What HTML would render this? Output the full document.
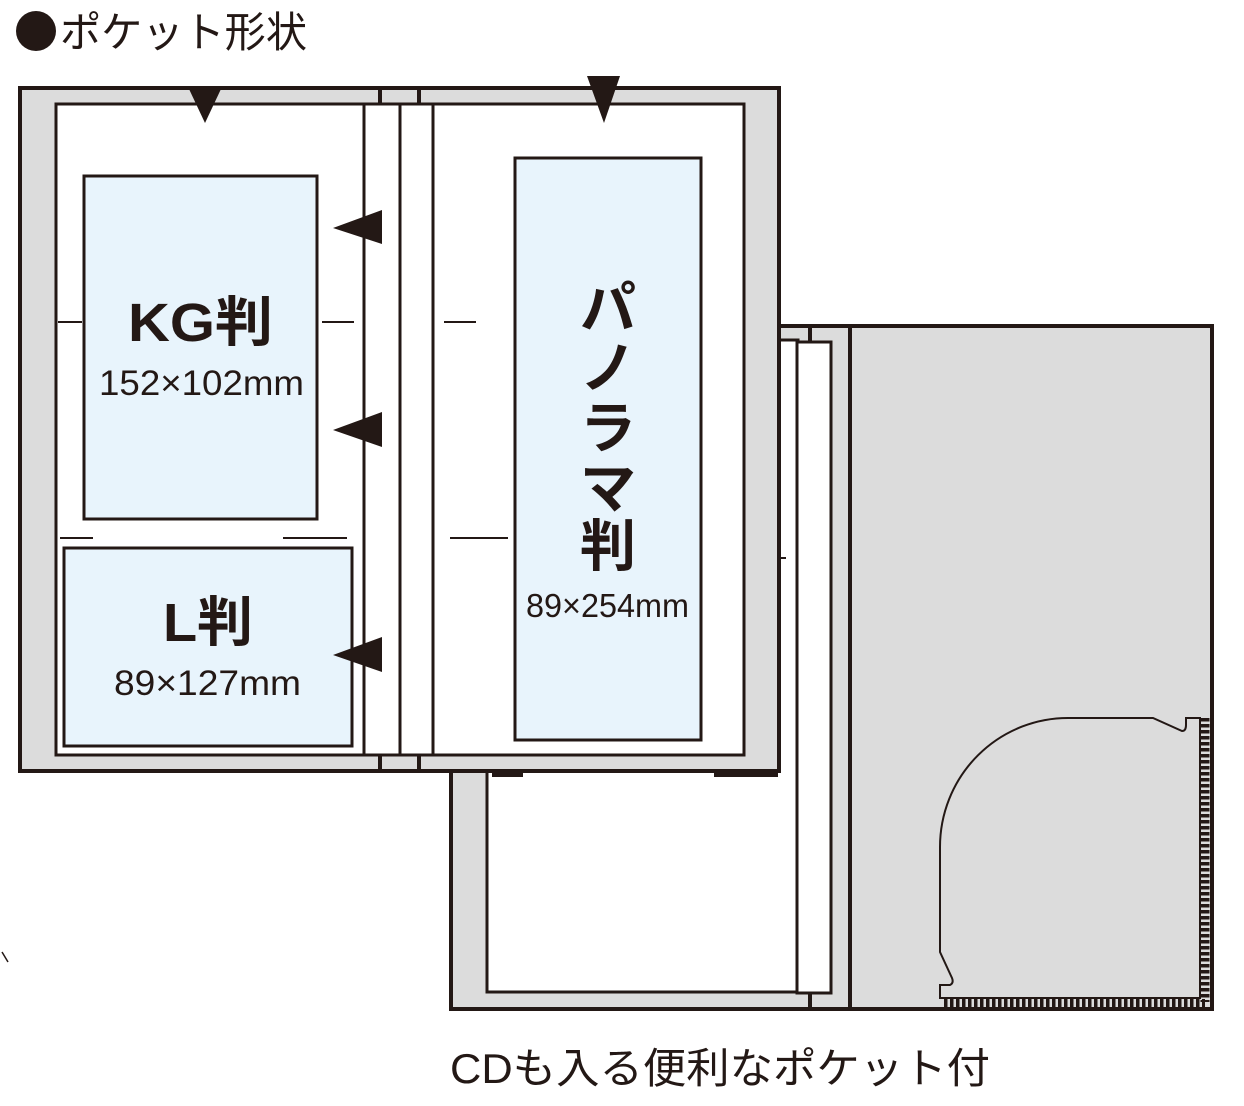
<!DOCTYPE html>
<html><head><meta charset="utf-8"><style>
html,body{margin:0;padding:0;background:#fff;width:1244px;height:1106px;overflow:hidden}
svg{display:block}
text{font-family:"Liberation Sans","Noto Sans CJK JP",sans-serif;fill:#231815}
</style></head><body>
<svg width="1244" height="1106" viewBox="0 0 1244 1106" xmlns="http://www.w3.org/2000/svg">
<g stroke="#231815" fill="none">
<!-- back album -->
<rect x="451" y="326" width="761" height="683" fill="#dcdcdc" stroke-width="4"/>
<rect x="487" y="340" width="311" height="652" fill="#fff" stroke-width="3"/>
<rect x="797" y="342" width="34" height="651" fill="#fff" stroke-width="3"/>
<line x1="810" y1="326" x2="810" y2="342" stroke-width="4"/>
<line x1="810" y1="993" x2="810" y2="1009" stroke-width="4"/>
<line x1="850" y1="326" x2="850" y2="1009" stroke-width="4"/>
<path d="M1070 718 L1153 718 L1182 731 Q1186 731 1186 725 L1186 718 L1200 718 L1200 998 L940 998 L940 985 L950 985 Q954 983 952 978 L940 952 L940 847 A128 129 0 0 1 1070 718 Z" stroke-width="2" fill="#dcdcdc"/>
<line x1="1205" y1="718" x2="1205" y2="1002" stroke-width="9" stroke-dasharray="3.5 2.5" stroke="#231815"/>
<line x1="944" y1="1003" x2="1205" y2="1003" stroke-width="8" stroke-dasharray="3.5 2.5" stroke="#231815"/>
<rect x="492" y="771" width="31" height="6" fill="#231815" stroke="none"/>
<rect x="714" y="771" width="64" height="6" fill="#231815" stroke="none"/>
<line x1="780" y1="558" x2="786" y2="558" stroke-width="2"/>
<!-- front album -->
<rect x="20" y="88" width="759" height="683" fill="#dcdcdc" stroke-width="4"/>
<rect x="56" y="104" width="308" height="651" fill="#fff" stroke-width="3"/>
<rect x="364" y="104" width="36" height="651" fill="#fff" stroke-width="3"/>
<rect x="400" y="104" width="33" height="651" fill="#fff" stroke-width="3"/>
<rect x="433" y="104" width="311" height="651" fill="#fff" stroke-width="3"/>
<line x1="380" y1="88" x2="380" y2="104" stroke-width="4"/>
<line x1="419" y1="88" x2="419" y2="104" stroke-width="4"/>
<line x1="380" y1="755" x2="380" y2="771" stroke-width="4"/>
<line x1="419" y1="755" x2="419" y2="771" stroke-width="4"/>
<!-- photo boxes -->
<rect x="84" y="176" width="233" height="343" fill="#e8f4fc" stroke-width="3"/>
<rect x="64" y="548" width="288" height="198" fill="#e8f4fc" stroke-width="3"/>
<rect x="515" y="158" width="186" height="582" fill="#e8f4fc" stroke-width="3"/>
<!-- dashes -->
<g stroke-width="2">
<line x1="58" y1="322" x2="82" y2="322"/><line x1="322" y1="322" x2="354" y2="322"/>
<line x1="444" y1="322" x2="476" y2="322"/>
<line x1="60" y1="538" x2="93" y2="538"/><line x1="283" y1="538" x2="347" y2="538"/>
<line x1="450" y1="538" x2="508" y2="538"/>
</g>
<path d="M2 952 L8 962" stroke-width="1.5"/>
</g>
<!-- arrows -->
<g fill="#231815">
<polygon points="189,89 221,89 205,123"/>
<polygon points="587,76 620,76 604,123"/>
<polygon points="333,228 382,210 382,244"/>
<polygon points="333,430 382,412 382,447"/>
<polygon points="333,655 382,637 382,672"/>
<circle cx="36" cy="31" r="20"/>
</g>
<!-- texts -->
<text x="60" y="47" font-size="42" textLength="247" lengthAdjust="spacingAndGlyphs">ポケット形状</text>
<text x="128" y="341" font-size="54" font-weight="bold" textLength="145" lengthAdjust="spacingAndGlyphs">KG判</text>
<text x="99" y="395" font-size="35" textLength="205" lengthAdjust="spacingAndGlyphs">152×102mm</text>
<text x="163" y="641" font-size="54" font-weight="bold" textLength="90" lengthAdjust="spacingAndGlyphs">L判</text>
<text x="114" y="695" font-size="35" textLength="187" lengthAdjust="spacingAndGlyphs">89×127mm</text>
<g font-size="56" font-weight="bold" text-anchor="middle">
<text x="608" y="328">パ</text>
<text x="608" y="388">ノ</text>
<text x="608" y="448">ラ</text>
<text x="608" y="508">マ</text>
<text x="608" y="566">判</text>
</g>
<text x="526" y="617" font-size="33" textLength="163" lengthAdjust="spacingAndGlyphs">89×254mm</text>
<text x="450" y="1083" font-size="42" textLength="540" lengthAdjust="spacingAndGlyphs">CDも入る便利なポケット付</text>
</svg>
</body></html>
